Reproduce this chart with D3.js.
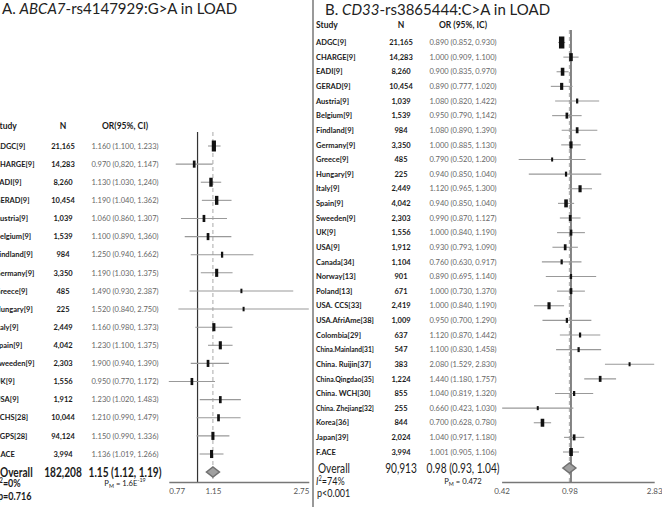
<!DOCTYPE html>
<html>
<head>
<meta charset="utf-8">
<script src="https://cdn.jsdelivr.net/npm/d3@7"></script>
<style>
  body { margin: 0; background: #fff; }
  svg { display: block; font-family: Lato, "Open Sans", sans-serif; }
</style>
</head>
<body>
<svg id="forest"></svg>
<script>
const width = 662;
const height = 507;

// ---- panel A: ABCA7-rs4147929 ----
const studiesA = ["ADGC[9]", "CHARGE[9]", "EADI[9]", "GERAD[9]", "Austria[9]", "Belgium[9]", "Findland[9]",
  "Germany[9]", "Greece[9]", "Hungary[9]", "Italy[9]", "Spain[9]", "Sweeden[9]", "UK[9]", "USA[9]",
  "CCHS[28]", "CGPS[28]", "F.ACE"];
const nA = ["21,165", "14,283", "8,260", "10,454", "1,039", "1,539", "984", "3,350", "485", "225",
  "2,449", "4,042", "2,303", "1,556", "1,912", "10,044", "94,124", "3,994"];
const ciTextA = ["1.160 (1.100, 1.233)", "0.970 (0,820, 1.147)", "1.130 (1.030, 1,240)", "1.190 (1.040, 1.362)",
  "1.060 (0.860, 1.307)", "1.100 (0.890, 1,360)", "1.250 (0.940, 1.662)", "1.190 (1.030, 1.375)",
  "1.490 (0.930, 2.387)", "1.520 (0.840, 2.750)", "1.160 (0.980, 1.373)", "1.230 (1.100, 1.375)",
  "1.900 (0.940, 1.390)", "0.950 (0.770, 1.172)", "1.230 (1.020, 1.483)", "1.210 (0.990, 1.479)",
  "1.150 (0.990, 1.336)", "1.136 (1.019, 1.266)"];
// values as plotted
const orA = [1.16, 0.97, 1.13, 1.19, 1.06, 1.10, 1.25, 1.19, 1.49, 1.52, 1.16, 1.23, 1.10, 0.95, 1.23, 1.21, 1.15, 1.136];
const loA = [1.10, 0.82, 1.03, 1.04, 0.86, 0.89, 0.94, 1.03, 0.93, 0.84, 0.98, 1.10, 0.94, 0.77, 1.02, 0.99, 0.99, 1.019];
const hiA = [1.233, 1.147, 1.24, 1.362, 1.307, 1.36, 1.662, 1.375, 2.387, 2.75, 1.373, 1.375, 1.33, 1.172, 1.483, 1.479, 1.336, 1.266];
const weightA = [12, 5, 8, 8, 5, 5, 3.5, 6.5, 2, 2, 6.5, 6.5, 5, 5, 5, 5, 6.5, 6.5];
const overallA = [1.15, 1.12, 1.19];
const ticksA = [0.77, 1.15, 2.75];

// ---- panel B: CD33-rs3865444 ----
const studiesB = ["ADGC[9]", "CHARGE[9]", "EADI[9]", "GERAD[9]", "Austria[9]", "Belgium[9]", "Findland[9]",
  "Germany[9]", "Greece[9]", "Hungary[9]", "Italy[9]", "Spain[9]", "Sweeden[9]", "UK[9]", "USA[9]",
  "Canada[34]", "Norway[13]", "Poland[13]", "USA. CCS[33]", "USA.AfriAme[38]", "Colombia[29]",
  "China.Mainland[31]", "China. Ruijin[37]", "China.Qingdao[35]", "China. WCH[30]", "China. Zhejiang[32]",
  "Korea[36]", "Japan[39]", "F.ACE"];
const nB = ["21,165", "14,283", "8,260", "10,454", "1,039", "1,539", "984", "3,350", "485", "225",
  "2,449", "4,042", "2,303", "1,556", "1,912", "1,104", "901", "671", "2,419", "1,009", "637",
  "547", "383", "1,224", "855", "255", "844", "2,024", "3,994"];
const ciTextB = ["0.890 (0.852, 0.930)", "1.000 (0.909, 1.100)", "0.900 (0.835, 0.970)", "0.890 (0.777, 1.020)",
  "1.080 (0.820, 1.422)", "0.950 (0.790, 1,142)", "1.080 (0.890, 1.390)", "1.000 (0.885, 1.130)",
  "0.790 (0.520, 1.200)", "0.940 (0.850, 1.040)", "1.120 (0.965, 1.300)", "0.940 (0.850, 1.040)",
  "0.990 (0.870, 1.127)", "1.000 (0.840, 1.190)", "0.930 (0.793, 1.090)", "0.760 (0.630, 0.917)",
  "0.890 (0.695, 1.140)", "1.000 (0.730, 1.370)", "1.000 (0.840, 1.190)", "0.950 (0.700, 1.290)",
  "1.120 (0.870, 1.442)", "1.100 (0.830, 1.458)", "2.080 (1.529, 2.830)", "1.440 (1.180, 1.757)",
  "1.040 (0.819, 1.320)", "0.660 (0.423, 1.030)", "0.700 (0.628, 0.780)", "1.040 (0.917, 1.180)",
  "1.001 (0.905, 1.106)"];
// values as plotted (rows 15-18 are drawn in a different order than the text column)
const orB = [0.89, 1.0, 0.90, 0.89, 1.08, 0.95, 1.08, 1.0, 0.79, 0.94, 1.12, 0.94, 0.99, 1.0, 0.93,
  0.89, 1.0, 1.0, 0.76, 0.95, 1.12, 1.10, 2.08, 1.44, 1.04, 0.66, 0.70, 1.04, 1.001];
const loB = [0.852, 0.909, 0.835, 0.777, 0.82, 0.79, 0.89, 0.885, 0.52, 0.59, 0.965, 0.85, 0.87, 0.84, 0.793,
  0.695, 0.73, 0.84, 0.63, 0.70, 0.87, 0.83, 1.529, 1.18, 0.819, 0.423, 0.628, 0.917, 0.905];
const hiB = [0.93, 1.10, 0.97, 1.02, 1.422, 1.142, 1.39, 1.13, 1.20, 1.46, 1.30, 1.04, 1.127, 1.19, 1.09,
  1.14, 1.37, 1.19, 0.917, 1.29, 1.442, 1.458, 2.83, 1.757, 1.32, 1.03, 0.78, 1.18, 1.106];
const weightB = [14, 6.2, 6.2, 4.8, 2.4, 3.5, 3.5, 4.8, 1.6, 2.4, 4.8, 6.2, 3.5, 3.5, 3.5,
  2.4, 2.4, 3.5, 4.8, 2.4, 2.4, 2.4, 1.6, 3.5, 2.4, 1.6, 6.2, 3.5, 6.2];
const overallB = [0.98, 0.93, 1.04];
const ticksB = [0.42, 0.98, 2.83];

const svg = d3.select('#forest')
    .attr('width', width)
    .attr('height', height);

svg.append("rect").attr("width", width).attr("height", height).attr("fill", "#fff");

// text helper; o.sx squeezes the text horizontally
function txt(g, x, y, s, o) {
    o = o || {};
    const t = g.append("text")
        .attr("text-anchor", o.anchor || "start")
        .attr("font-size", o.size || 7.5)
        .attr("font-weight", o.weight || "normal")
        .attr("fill", o.fill || "#1a1a1a")
        .text(s);
    if (o.sx) t.attr("transform", `translate(${x},${y}) scale(${o.sx},1)`);
    else t.attr("x", x).attr("y", y);
    return t;
}

function panel(cfg) {
    const g = svg.append("g");
    const x = d3.scaleLog().domain(cfg.domain).range(cfg.range);
    const y = d3.scaleLinear().domain([0, cfg.studies.length - 1]).range(cfg.rows);
    const boxH = d3.scaleSqrt().domain([0, d3.max(cfg.weight)]).range([0, cfg.maxBox]);

    // title
    const t = txt(g, cfg.titleX, cfg.titleY, "", { size: 15, fill: "#222" });
    t.append("tspan").text(cfg.titlePre);
    t.append("tspan").attr("font-style", "italic").text(cfg.gene);
    t.append("tspan").text(cfg.titlePost);

    // headers
    txt(g, cfg.colStudy, cfg.headY, "Study", { size: 8.5, weight: "bold" });
    txt(g, cfg.colN, cfg.headY, "N", { size: 8.5, weight: "bold", anchor: "middle" });
    txt(g, cfg.colOR, cfg.headY, cfg.orHead, { size: 8.5, weight: "bold", anchor: "middle" });

    // text columns
    cfg.studies.forEach((s, i) => {
        const lab = txt(g, cfg.colStudy, y(i) + 2.7, s, { size: 7.5, weight: "bold" });
        const len = lab.node().getComputedTextLength();
        if (cfg.labelMax && len > cfg.labelMax) lab.attr("font-size", 7.5 * cfg.labelMax / len);
        txt(g, cfg.colN, y(i) + 2.7, cfg.n[i], { size: 7.5, weight: "bold", anchor: "middle" });
        txt(g, cfg.colOR, y(i) + 2.7, cfg.ciText[i], { size: 7.5, fill: "#666", anchor: "middle" });
    });

    // reference lines
    g.append("line")
        .attr("x1", x(1)).attr("x2", x(1))
        .attr("y1", cfg.lineTop).attr("y2", cfg.axisY)
        .attr("stroke", "#333").attr("stroke-width", 1.2);
    g.append("line")
        .attr("x1", x(cfg.overall[0])).attr("x2", x(cfg.overall[0]))
        .attr("y1", cfg.lineTop).attr("y2", cfg.axisY)
        .attr("stroke", "#aaa").attr("stroke-width", 1).attr("stroke-dasharray", "4,3");

    // CIs and boxes
    cfg.or.forEach((v, i) => {
        g.append("line")
            .attr("x1", x(cfg.lo[i])).attr("x2", x(cfg.hi[i]))
            .attr("y1", y(i)).attr("y2", y(i))
            .attr("stroke", "#999").attr("stroke-width", 1.1);
        const h = boxH(cfg.weight[i]);
        const w = Math.max(2, h * cfg.boxRatio);
        g.append("rect")
            .attr("x", x(v) - w / 2).attr("y", y(i) - h / 2)
            .attr("width", w).attr("height", h)
            .attr("fill", "#111");
    });

    // overall diamond
    const ov = cfg.overall;
    const dl = Math.max(x(ov[0]) - x(ov[1]), 6.5), dr = Math.max(x(ov[2]) - x(ov[0]), 6.5);
    const cx = x(ov[0]), cy = cfg.overallY;
    g.append("path")
        .attr("d", `M${cx - dl},${cy} L${cx},${cy - 5} L${cx + dr},${cy} L${cx},${cy + 5} Z`)
        .attr("fill", "#a0a0a0").attr("stroke", "#707070").attr("stroke-width", 1.5);

    // axis
    const ax = g.append("g")
        .attr("transform", `translate(0,${cfg.axisY})`)
        .call(d3.axisBottom(x).tickValues(cfg.ticks).tickSize(0).tickSizeOuter(0).tickPadding(6)
            .tickFormat(d3.format(".2f")));
    ax.select(".domain").attr("stroke", "#777").attr("stroke-width", 1.5);
    ax.selectAll("text").attr("font-size", 8).attr("fill", "#555").attr("font-family", "Lato, sans-serif");
    if (cfg.edgeTicks) {
        ax.selectAll(".tick text").attr("text-anchor", (d, i) => i === 0 ? "start" : (i === cfg.ticks.length - 1 ? "end" : "middle"));
    }

    // overall row
    const big = { size: 13, weight: cfg.ovWeight, sx: 0.78 };
    txt(g, cfg.ovX, cfg.overallY + 4.5, "Overall", big);
    txt(g, cfg.colN, cfg.overallY + 4.5, cfg.ovN, Object.assign({ anchor: "middle" }, big));
    txt(g, cfg.colOR, cfg.overallY + 4.5,
        `${ov[0].toFixed(2)} (${ov[1].toFixed(2)}, ${ov[2].toFixed(2)})`,
        Object.assign({ anchor: "middle" }, big));

    const small = { size: 11, weight: cfg.ovWeight, sx: 0.82 };
    const i2 = txt(g, cfg.i2X, cfg.overallY + cfg.i2Dy, "", small);
    i2.append("tspan").attr("font-style", "italic").text("I");
    i2.append("tspan").attr("font-size", 7).attr("dy", -4).text("2");
    i2.append("tspan").attr("dy", 4).text(cfg.i2);
    txt(g, cfg.i2X + 1, cfg.overallY + cfg.pDy, cfg.pHet, small);

    const pm = txt(g, cfg.colOR, cfg.overallY + cfg.i2Dy - 1, "", { size: 8.5, anchor: "middle", sx: 0.9 });
    pm.append("tspan").text("P");
    pm.append("tspan").attr("font-size", 6).attr("dy", 2).text("M");
    pm.append("tspan").attr("dy", -2).text(" = " + cfg.pM);
    if (cfg.pMexp) pm.append("tspan").attr("font-size", 6).attr("dy", -4).text(cfg.pMexp);
}

panel({
    studies: studiesA, n: nA, ciText: ciTextA, or: orA, lo: loA, hi: hiA, weight: weightA,
    overall: overallA, ticks: ticksA, domain: [0.77, 2.75], range: [168.8, 308.8],
    rows: [146, 454], maxBox: 11, boxRatio: 0.38,
    titleX: 2, titleY: 14, titlePre: "A. ", gene: "ABCA7", titlePost: "-rs4147929:G>A in LOAD",
    headY: 129, colStudy: -5, colN: 63, colOR: 125, orHead: "OR(95%, CI)",
    lineTop: 132, axisY: 482, overallY: 472, ovX: 0, i2X: -3, i2Dy: 15, pDy: 28,
    ovWeight: "bold", edgeTicks: true,
    ovN: "182,208", i2: "=0%", pHet: "p=0.716", pM: "1.6E", pMexp: "-19"
});

panel({
    studies: studiesB, n: nB, ciText: ciTextB, or: orB, lo: loB, hi: hiB, weight: weightB,
    overall: overallB, ticks: ticksB, domain: [0.42, 2.83], range: [501.6, 654.2],
    rows: [42.5, 452], maxBox: 12, boxRatio: 0.45, labelMax: 58,
    titleX: 325, titleY: 15, titlePre: "B. ", gene: "CD33", titlePost: "-rs3865444:C>A in LOAD",
    headY: 28, colStudy: 316, colN: 401, colOR: 463, orHead: "OR (95%, IC)",
    lineTop: 30, axisY: 482, overallY: 468, ovX: 318, i2X: 316, i2Dy: 17, pDy: 29,
    ovWeight: "normal", edgeTicks: false,
    ovN: "90,913", i2: "=74%", pHet: "p<0.001", pM: "0.472", pMexp: null
});

// divider between the panels
svg.append("line")
    .attr("x1", 313).attr("x2", 313)
    .attr("y1", 0).attr("y2", height)
    .attr("stroke", "#777").attr("stroke-width", 1.5);
</script>
</body>
</html>
